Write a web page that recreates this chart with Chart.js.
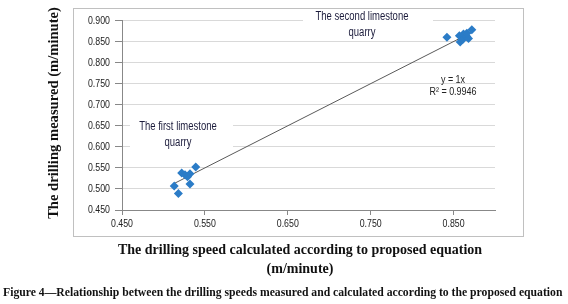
<!DOCTYPE html>
<html>
<head>
<meta charset="utf-8">
<script src="https://cdn.jsdelivr.net/npm/chart.js@4"></script>
<style>
html,body{margin:0;padding:0;background:#fff;}
#wrap{width:568px;height:304px;position:relative;}
</style>
</head>
<body>
<div id="wrap"><canvas id="c" width="568" height="304"></canvas></div>
<script>
// ---- data ----
const quarry1X = [0.539, 0.522, 0.526, 0.532, 0.529, 0.532, 0.513, 0.518];
const quarry1Y = [0.552, 0.538, 0.534, 0.536, 0.529, 0.512, 0.507, 0.489];
const quarry2X = [0.842, 0.857, 0.858, 0.861, 0.862, 0.866, 0.868, 0.866, 0.872];
const quarry2Y = [0.860, 0.864, 0.849, 0.855, 0.868, 0.862, 0.857, 0.870, 0.878];
const trendX = [0.513, 0.872];       // y = 1x
const xTicks = [0.45, 0.55, 0.65, 0.75, 0.85];
const yTicks = [0.45, 0.50, 0.55, 0.60, 0.65, 0.70, 0.75, 0.80, 0.85, 0.90];
const labelQ1 = ["The first limestone", "quarry"];
const labelQ2 = ["The second limestone", "quarry"];
const eqLines = ["y = 1x", "R\u00B2 = 0.9946"];
const yTitle = "The drilling measured (m/minute)";
const xTitle = ["The drilling speed calculated according to proposed equation", "(m/minute)"];
const caption = "Figure 4\u2014Relationship between the drilling speeds measured and calculated according to the proposed equation";

const pts = (xs, ys) => xs.map((x, i) => ({x: x, y: ys[i]}));
const SANS = '"Liberation Sans", Arial, sans-serif';
const SERIF = '"Liberation Serif", "DejaVu Serif", serif';
const BLUE = '#2B7CC7';
const fmt = v => Number(v).toFixed(3);

// draw text horizontally condensed (the reference uses a narrow face)
function narrowText(ctx, text, x, y, sx, align) {
  ctx.save();
  ctx.translate(x, y);
  ctx.scale(sx, 1);
  ctx.textAlign = align;
  ctx.fillText(text, 0, 0);
  ctx.restore();
}

const decor = {
  id: 'decor',
  beforeDraw(chart) {
    const ctx = chart.ctx;
    ctx.save();
    ctx.fillStyle = '#fff';
    ctx.fillRect(0, 0, chart.width, chart.height);
    ctx.restore();
  },
  afterDatasetsDraw(chart) {
    const ctx = chart.ctx;
    const xs = chart.scales.x, ys = chart.scales.y;
    ctx.save();
    // frame
    ctx.strokeStyle = '#c0c0c0';
    ctx.lineWidth = 1;
    ctx.strokeRect(73.5, 8.5, 450, 228);
    // tick labels (condensed), positioned by the library's scales
    ctx.fillStyle = '#222';
    ctx.font = '11px ' + SANS;
    ctx.textBaseline = 'middle';
    ys.ticks.forEach(t => narrowText(ctx, fmt(t.value), 110, ys.getPixelForValue(t.value), 0.8, 'right'));
    xs.ticks.forEach(t => narrowText(ctx, fmt(t.value), xs.getPixelForValue(t.value), 224, 0.8, 'center'));
    // annotation boxes
    ctx.fillStyle = '#fff';
    ctx.fillRect(303, 10, 130, 28);
    ctx.fillRect(130, 116, 103, 34);
    ctx.fillStyle = '#1c1c3c';
    ctx.font = '12.5px ' + SANS;
    narrowText(ctx, labelQ2[0], 362, 17, 0.76, 'center');
    narrowText(ctx, labelQ2[1], 362, 33, 0.76, 'center');
    narrowText(ctx, labelQ1[0], 178, 127, 0.76, 'center');
    narrowText(ctx, labelQ1[1], 178, 143, 0.76, 'center');
    ctx.fillStyle = '#222';
    ctx.font = '11.5px ' + SANS;
    narrowText(ctx, eqLines[0], 453, 80, 0.78, 'center');
    narrowText(ctx, eqLines[1], 453, 92, 0.78, 'center');
    // axis titles
    ctx.fillStyle = '#111';
    ctx.textAlign = 'center';
    ctx.font = 'bold 14px ' + SERIF;
    ctx.fillText(xTitle[0], 300, 250);
    ctx.fillText(xTitle[1], 300, 269);
    ctx.save();
    ctx.translate(54, 113);
    ctx.rotate(-Math.PI / 2);
    ctx.font = 'bold 14.6px ' + SERIF;
    ctx.fillText(yTitle, 0, 0);
    ctx.restore();
    // caption
    ctx.textAlign = 'left';
    ctx.font = 'bold 11.7px ' + SERIF;
    ctx.fillText(caption, 3, 293);
    ctx.restore();
  }
};

new Chart(document.getElementById('c'), {
  type: 'scatter',
  data: {
    datasets: [
      {
        label: 'trend',
        data: pts(trendX, trendX),
        showLine: true,
        borderColor: '#5a5a5a',
        borderWidth: 1,
        pointRadius: 0,
        order: 2
      },
      {
        label: 'first',
        data: pts(quarry1X, quarry1Y),
        pointStyle: 'rectRot',
        pointRadius: 4.5,
        backgroundColor: BLUE,
        borderColor: BLUE,
        borderWidth: 0,
        order: 1
      },
      {
        label: 'second',
        data: pts(quarry2X, quarry2Y),
        pointStyle: 'rectRot',
        pointRadius: 4.5,
        backgroundColor: BLUE,
        borderColor: BLUE,
        borderWidth: 0,
        order: 1
      }
    ]
  },
  options: {
    responsive: false,
    animation: false,
    layout: {padding: {left: 0, right: 73, top: 20.5, bottom: 0}},
    plugins: {legend: {display: false}, tooltip: {enabled: false}, title: {display: false}},
    scales: {
      x: {
        type: 'linear',
        min: 0.45,
        max: 0.9,
        afterBuildTicks: s => { s.ticks = xTicks.map(v => ({value: v})); },
        afterFit: s => { s.height = 304 - 210; },
        ticks: {
          callback: fmt,
          font: {family: SANS, size: 11},
          color: 'rgba(0,0,0,0)',
          padding: 3,
          maxRotation: 0,
          autoSkip: false
        },
        grid: {drawOnChartArea: false, tickColor: '#888', tickLength: 5},
        border: {color: '#888'}
      },
      y: {
        type: 'linear',
        min: 0.45,
        max: 0.9,
        afterBuildTicks: s => { s.ticks = yTicks.map(v => ({value: v})); },
        afterFit: s => { s.width = 122; },
        ticks: {
          callback: fmt,
          font: {family: SANS, size: 11},
          color: 'rgba(0,0,0,0)',
          padding: 6,
          autoSkip: false
        },
        grid: {color: '#d9d9d9', tickColor: '#888', tickLength: 7},
        border: {color: '#888'}
      }
    }
  },
  plugins: [decor]
});
</script>
</body>
</html>
